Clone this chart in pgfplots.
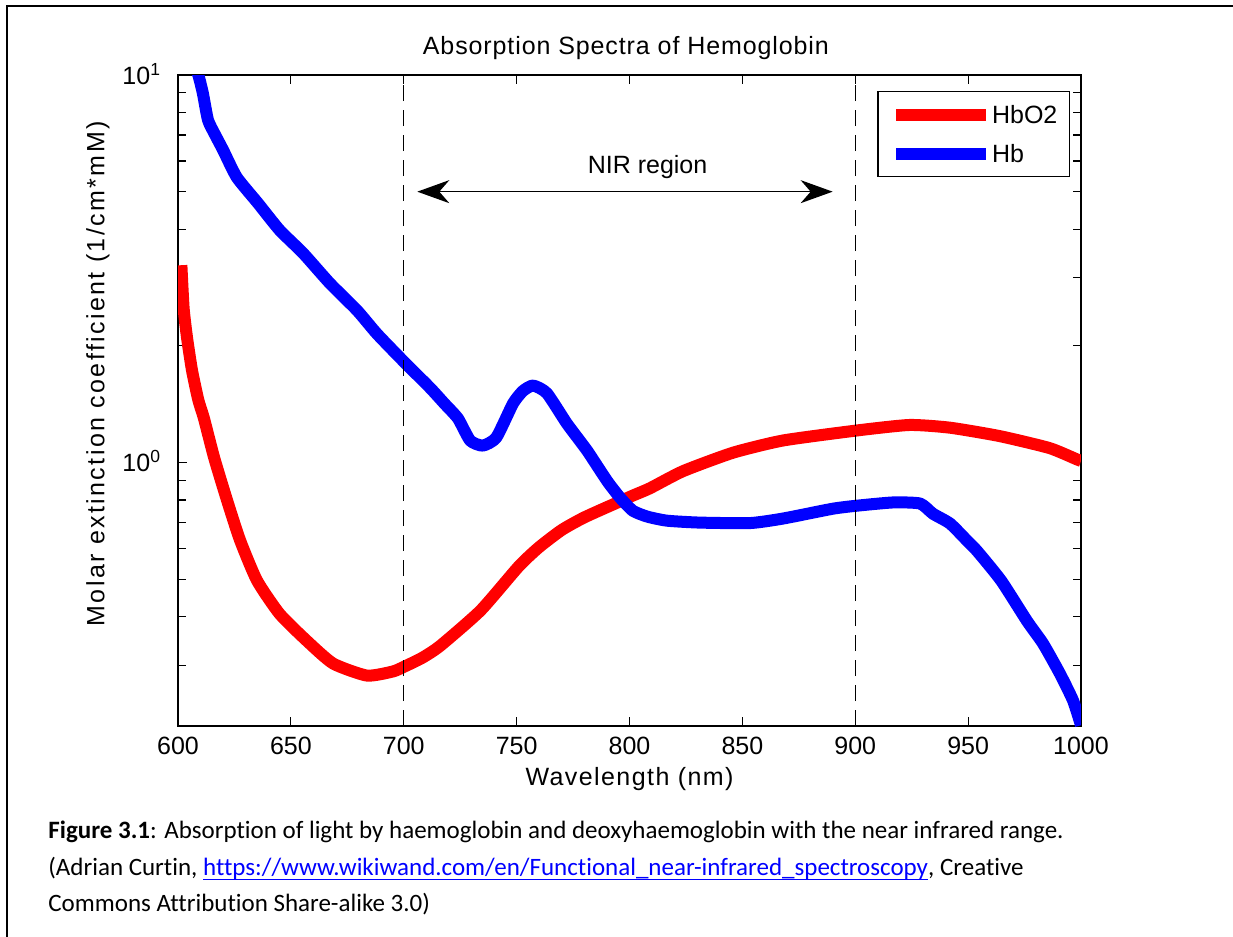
\documentclass[border=0pt]{standalone}
\usepackage{pgfplots}
\pgfplotsset{compat=1.18}
\usepackage{fontspec}
\setmainfont{Liberation Sans}
\newfontfamily\capfont[Ligatures=NoCommon]{Carlito}
\usetikzlibrary{arrows.meta}

% underline that runs through descenders, like the word processor does
\newcommand\ul[1]{\setbox0\hbox{#1}\rlap{\rule[-2.4pt]{\wd0}{0.55pt}}\box0}
\newcommand\chartfont{\fontsize{12.5}{15}\selectfont}

\begin{document}
\begin{tikzpicture}
\path[use as bounding box] (0pt,0pt) rectangle (616.5pt,-468.5pt);
\draw[line width=0.75pt] (3.5pt,-470pt) -- (3.5pt,-3pt) -- (620pt,-3pt);

\begin{axis}[
  at={(89pt,-37.5pt)}, anchor=north west,
  scale only axis, width=451.5pt, height=325.5pt,
  xmin=600, xmax=1000,
  ymode=log, ymin=0.209, ymax=10,
  xtick={600,650,...,1000},
  xticklabels={600,650,700,750,800,850,900,950,1000},
  ytick={1,10},
  yticklabels={10\textsuperscript{0},10\textsuperscript{1}},
  minor ytick={0.3,0.4,0.5,0.6,0.7,0.8,0.9,2,3,4,5,6,7,8,9},
  tick align=inside, tick pos=both,
  major tick length=4.5pt, minor tick length=4pt,
  every tick/.style={black, line width=0.6pt},
  axis line style={line width=0.8pt},
  tick label style={font=\chartfont},
  xticklabel style={yshift=-2pt},
  yticklabel style={anchor=base east, yshift=-4.5pt, xshift=-8.3pt, inner sep=0pt},
  title={Absorption Spectra of Hemoglobin},
  title style={at={(0.496,1)}, anchor=base, yshift=4.5pt,
    font=\chartfont\addfontfeature{LetterSpace=3.6}},
  xlabel={Wavelength (nm)},
  xlabel style={at={(axis description cs:0.5,-0.0906)}, anchor=base,
    font=\chartfont\addfontfeature{LetterSpace=5.7}},
  ylabel={Molar extinction coefficient (1/cm*mM)},
  ylabel style={at={(axis description cs:-0.0886,0.541)}, anchor=center,
    font=\chartfont\addfontfeature{LetterSpace=9.6}},
  legend style={at={(1,1)}, anchor=north east, xshift=-5.5pt, yshift=-8pt,
    draw=black, line width=0.6pt, font=\chartfont,
    inner xsep=6pt, inner ysep=7pt, row sep=10.5pt,
    nodes={inner sep=0pt, text height=9pt, text depth=0pt}},
  legend cell align=left,
  legend image code/.code={%
    \path (0pt,0pt) -- (45pt,0pt);
    \draw[#1, line width=4.5pt] (0pt,0pt) -- (42pt,0pt);},
]

\addplot[red, line width=6pt, line join=round, smooth, tension=0.35] coordinates {
(601.5,3.23) (602.5,2.5) (604,2.1) (606.2,1.73) (609,1.45) (611.5,1.30)
(616,1.03) (621.7,0.80) (627.5,0.63) (635,0.496) (645,0.407) (657,0.347)
(668.7,0.303) (683.7,0.282) (695.2,0.289) (700,0.297) (708,0.313) (716,0.336)
(734,0.415) (751,0.54) (760,0.605) (770,0.67) (780,0.722) (794.5,0.788)
(801.5,0.822) (809,0.858) (823.7,0.95) (845.8,1.06) (868,1.14)
(900.8,1.21) (924,1.25) (942,1.23) (964,1.17) (986,1.09) (998,1.02) (1000,1.01)
};
\addlegendentry{HbO2}

\addplot[blue, line width=6pt, line join=round, smooth, tension=0.35] coordinates {
(607,10.6) (609,10.0) (611,8.98) (613.3,7.65) (616.5,7.0) (620,6.4)
(626,5.45) (635.4,4.67) (645,3.98) (655.4,3.47) (667.3,2.90) (679.3,2.47)
(688.1,2.15) (699.7,1.83) (711.6,1.56) (718,1.42) (724,1.30) (729.4,1.14)
(735,1.106) (741,1.16) (748.4,1.42) (752.8,1.53) (757.3,1.58) (763.4,1.51)
(772.3,1.26) (781.2,1.074) (790,0.898) (795.8,0.812) (801.5,0.751)
(808,0.725) (816.6,0.708) (831,0.70) (853.4,0.698) (868,0.717) (890,0.76)
(900.8,0.774) (916.7,0.789) (928.7,0.784) (934.4,0.738) (942,0.696)
(949.5,0.629) (953.9,0.592) (964.6,0.496) (976.1,0.390)
(983.2,0.341) (990.7,0.285) (996.5,0.243) (1000,0.210)
};
\addlegendentry{Hb}

\addplot[black, line width=0.7pt, dash pattern=on 8pt off 4.5pt, forget plot]
  coordinates {(700,0.209) (700,10)};
\addplot[black, line width=0.7pt, dash pattern=on 8pt off 4.5pt, forget plot]
  coordinates {(900,0.209) (900,10)};

\draw[{Stealth[length=16pt,width=11.5pt,inset=5pt]}-{Stealth[length=16pt,width=11.5pt,inset=5pt]}, line width=0.7pt]
  (axis cs:706,5) -- (axis cs:890,5);
\node[anchor=base, font=\chartfont] at (axis cs:808,5.58) {NIR region};
\end{axis}

\begin{scope}[capfont/.style={anchor=base west, inner sep=0pt, font=\capfont\fontsize{12.5}{14}\selectfont}]
\node[capfont] at (24pt,-419pt) {\textbf{Figure 3.1}: Absorption of light by haemoglobin and deoxyhaemoglobin with the near infrared range.};
\node[capfont] at (24pt,-437.5pt) {(Adrian Curtin, {\color{blue}\ul{https://www.wikiwand.com/en/Functional\_near-infrared\_spectroscopy}}, Creative};
\node[capfont] at (24pt,-455.5pt) {Commons Attribution Share-alike 3.0)};
\end{scope}
\end{tikzpicture}
\end{document}
